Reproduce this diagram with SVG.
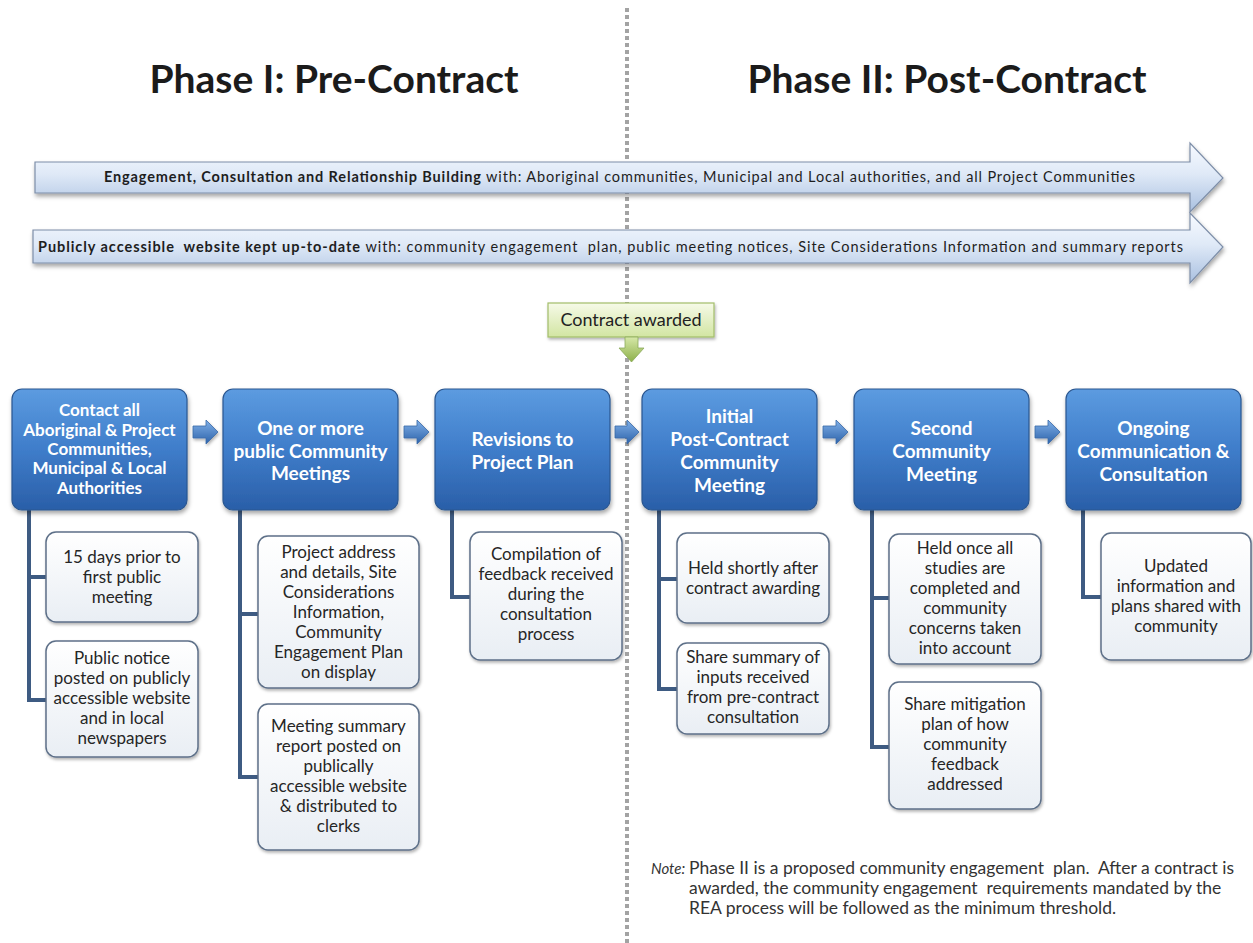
<svg xmlns="http://www.w3.org/2000/svg" width="1253" height="943" viewBox="0 0 1253 943">
<defs>
<linearGradient id="gBlue" x1="0" y1="0" x2="0" y2="1">
<stop offset="0" stop-color="#5c9be0"/><stop offset="0.5" stop-color="#3f7dca"/><stop offset="1" stop-color="#2a5fa8"/>
</linearGradient>
<linearGradient id="gSub" x1="0" y1="0" x2="0" y2="1">
<stop offset="0" stop-color="#ffffff"/><stop offset="1" stop-color="#e9eef4"/>
</linearGradient>
<linearGradient id="gBig" x1="0" y1="0" x2="0" y2="1">
<stop offset="0" stop-color="#f7faff"/><stop offset="0.45" stop-color="#dfe9f7"/><stop offset="1" stop-color="#a9c0e0"/>
</linearGradient>
<linearGradient id="gGreen" x1="0" y1="0" x2="0" y2="1">
<stop offset="0" stop-color="#f6fae8"/><stop offset="1" stop-color="#d2e5a2"/>
</linearGradient>
<linearGradient id="gGreenArrow" x1="0" y1="0" x2="0" y2="1">
<stop offset="0" stop-color="#d6e8a8"/><stop offset="1" stop-color="#8db04a"/>
</linearGradient>
<linearGradient id="gSmall" x1="0" y1="0" x2="0" y2="1">
<stop offset="0" stop-color="#7fb0e8"/><stop offset="1" stop-color="#2d62aa"/>
</linearGradient>
<filter id="sh" x="-10%" y="-10%" width="125%" height="130%">
<feDropShadow dx="1" dy="3" stdDeviation="2" flood-color="#000" flood-opacity="0.35"/>
</filter>
<filter id="shs" x="-10%" y="-10%" width="125%" height="130%">
<feDropShadow dx="1" dy="2" stdDeviation="1.5" flood-color="#000" flood-opacity="0.3"/>
</filter>
</defs>
<style>
.title{font-family:Lato,"Open Sans",sans-serif;font-weight:bold;font-size:39px;fill:#1b1b1b;text-anchor:middle}
.bigt{font-family:Lato,"Open Sans",sans-serif;font-size:14.5px;fill:#1e1e1e;white-space:pre}
.bigt .b{font-weight:bold}
.bx{fill:url(#gBlue);stroke:#2a5690;stroke-width:1.2;filter:url(#sh)}
.bxt{font-family:Lato,"Open Sans",sans-serif;font-weight:bold;font-size:19px;fill:#ffffff;text-anchor:middle}
.bxt.s{font-size:17px}
.sub{fill:url(#gSub);stroke:#5d6f88;stroke-width:1.5;filter:url(#shs)}
.st{font-family:Lato,"Open Sans",sans-serif;font-size:17px;fill:#262626;text-anchor:middle}
.con{fill:none;stroke:#3e5b82;stroke-width:4}
.sa{fill:url(#gSmall);stroke:#3a6aa8;stroke-width:0.8;filter:url(#shs)}
.note{font-family:Lato,"Open Sans",sans-serif;font-size:17.5px;fill:#333333;white-space:pre}
.nl{font-family:Lato,"Open Sans",sans-serif;font-size:15px;font-style:italic;fill:#333333}
</style>

<line x1="627" y1="8" x2="627" y2="943" stroke="#a3a3a3" stroke-width="4" stroke-dasharray="4 3"/>

<text class="title" x="334" y="93">Phase I: Pre-Contract</text>
<text class="title" x="947" y="93">Phase II: Post-Contract</text>

<g id="band1">
<path d="M35,162 H1190 V143 L1223,178 L1190,212 V193 H35 Z" fill="url(#gBig)" stroke="#7d8ea8" stroke-width="1.2" filter="url(#sh)"/>
<text class="bigt" x="104" y="182" textLength="1031" lengthAdjust="spacing"><tspan class="b">Engagement, Consultation and Relationship Building</tspan> with: Aboriginal communities, Municipal and Local authorities, and all Project Communities</text>
</g>
<g id="band2">
<path d="M33,230 H1190 V213 L1223,247 L1190,283 V263 H33 Z" fill="url(#gBig)" stroke="#7d8ea8" stroke-width="1.2" filter="url(#sh)"/>
<text class="bigt" x="38" y="252" textLength="1145" lengthAdjust="spacing"><tspan class="b">Publicly accessible  website kept up-to-date</tspan> with: community engagement  plan, public meeting notices, Site Considerations Information and summary reports</text>
</g>

<g id="contract-awarded">
<rect x="548" y="303" width="166" height="34" fill="url(#gGreen)" stroke="#a2bd6a" stroke-width="1.2" filter="url(#shs)"/>
<text x="631" y="326" font-family="Lato, 'Open Sans', sans-serif" font-size="18px" fill="#222" text-anchor="middle">Contract awarded</text>
<path d="M625,337 H638 V348 H644 L631.5,362 L619,348 H625 Z" fill="url(#gGreenArrow)" stroke="#8aa95a" stroke-width="0.8"/>
</g>

<g id="connectors">
<path class="con" d="M29,508 V700 M27,577 H46 M27,700 H46"/>
<path class="con" d="M240,508 V777 M238,614 H258 M238,777 H258"/>
<path class="con" d="M452,508 V597 M450,597 H470"/>
<path class="con" d="M659,508 V689 M657,579 H677 M657,689 H677"/>
<path class="con" d="M872,508 V747 M870,598 H889 M870,747 H889"/>
<path class="con" d="M1083,508 V597 M1081,597 H1101"/>
<path class="sa" d="M193,426 H206 V420 L218,432 L206,444 V438 H193 Z"/>
<path class="sa" d="M404,426 H417 V420 L429,432 L417,444 V438 H404 Z"/>
<path class="sa" d="M615,426 H627 V420 L639,432 L627,444 V438 H615 Z"/>
<path class="sa" d="M823,426 H836 V420 L848,432 L836,444 V438 H823 Z"/>
<path class="sa" d="M1035,426 H1048 V420 L1060,432 L1048,444 V438 H1035 Z"/>
</g>

<g id="n1">
<rect class="bx" x="12" y="389" width="175" height="121" rx="10"/>
<text class="bxt s"><tspan x="99.5" y="416">Contact all</tspan><tspan x="99.5" y="436">Aboriginal &amp; Project</tspan><tspan x="99.5" y="455">Communities,</tspan><tspan x="99.5" y="474">Municipal &amp; Local</tspan><tspan x="99.5" y="494">Authorities</tspan></text>
</g>
<g id="n2">
<rect class="bx" x="223" y="389" width="175" height="121" rx="10"/>
<text class="bxt"><tspan x="310.5" y="435">One or more</tspan><tspan x="310.5" y="458">public Community</tspan><tspan x="310.5" y="480">Meetings</tspan></text>
</g>
<g id="n3">
<rect class="bx" x="435" y="389" width="175" height="121" rx="10"/>
<text class="bxt"><tspan x="522.5" y="446">Revisions to</tspan><tspan x="522.5" y="469">Project Plan</tspan></text>
</g>
<g id="n4">
<rect class="bx" x="642" y="389" width="175" height="121" rx="10"/>
<text class="bxt"><tspan x="729.5" y="423">Initial</tspan><tspan x="729.5" y="446">Post-Contract</tspan><tspan x="729.5" y="469">Community</tspan><tspan x="729.5" y="492">Meeting</tspan></text>
</g>
<g id="n5">
<rect class="bx" x="854" y="389" width="175" height="121" rx="10"/>
<text class="bxt"><tspan x="941.5" y="435">Second</tspan><tspan x="941.5" y="458">Community</tspan><tspan x="941.5" y="481">Meeting</tspan></text>
</g>
<g id="n6">
<rect class="bx" x="1066" y="389" width="175" height="121" rx="10"/>
<text class="bxt"><tspan x="1153.5" y="435">Ongoing</tspan><tspan x="1153.5" y="458">Communication &amp;</tspan><tspan x="1153.5" y="481">Consultation</tspan></text>
</g>

<g id="n1a">
<rect class="sub" x="46" y="532" width="152" height="90" rx="10"/>
<text class="st"><tspan x="122" y="563">15 days prior to</tspan><tspan x="122" y="583">first public</tspan><tspan x="122" y="603">meeting</tspan></text>
</g>
<g id="n1b">
<rect class="sub" x="46" y="641" width="152" height="116" rx="10"/>
<text class="st"><tspan x="122" y="664">Public notice</tspan><tspan x="122" y="684">posted on publicly</tspan><tspan x="122" y="704">accessible website</tspan><tspan x="122" y="724">and in local</tspan><tspan x="122" y="744">newspapers</tspan></text>
</g>
<g id="n2a">
<rect class="sub" x="258" y="536" width="161" height="152" rx="10"/>
<text class="st"><tspan x="338.5" y="558">Project address</tspan><tspan x="338.5" y="578">and details, Site</tspan><tspan x="338.5" y="598">Considerations</tspan><tspan x="338.5" y="618">Information,</tspan><tspan x="338.5" y="638">Community</tspan><tspan x="338.5" y="658">Engagement Plan</tspan><tspan x="338.5" y="678">on display</tspan></text>
</g>
<g id="n2b">
<rect class="sub" x="258" y="704" width="161" height="146" rx="10"/>
<text class="st"><tspan x="338.5" y="732">Meeting summary</tspan><tspan x="338.5" y="752">report posted on</tspan><tspan x="338.5" y="772">publically</tspan><tspan x="338.5" y="792">accessible website</tspan><tspan x="338.5" y="812">&amp; distributed to</tspan><tspan x="338.5" y="832">clerks</tspan></text>
</g>
<g id="n3a">
<rect class="sub" x="470" y="532" width="152" height="128" rx="10"/>
<text class="st"><tspan x="546" y="560">Compilation of</tspan><tspan x="546" y="580">feedback received</tspan><tspan x="546" y="600">during the</tspan><tspan x="546" y="620">consultation</tspan><tspan x="546" y="640">process</tspan></text>
</g>
<g id="n4a">
<rect class="sub" x="677" y="533" width="152" height="90" rx="10"/>
<text class="st"><tspan x="753" y="574">Held shortly after</tspan><tspan x="753" y="594">contract awarding</tspan></text>
</g>
<g id="n4b">
<rect class="sub" x="677" y="643" width="152" height="91" rx="10"/>
<text class="st"><tspan x="753" y="663">Share summary of</tspan><tspan x="753" y="683">inputs received</tspan><tspan x="753" y="703">from pre-contract</tspan><tspan x="753" y="723">consultation</tspan></text>
</g>
<g id="n5a">
<rect class="sub" x="889" y="534" width="152" height="130" rx="10"/>
<text class="st"><tspan x="965" y="554">Held once all</tspan><tspan x="965" y="574">studies are</tspan><tspan x="965" y="594">completed and</tspan><tspan x="965" y="614">community</tspan><tspan x="965" y="634">concerns taken</tspan><tspan x="965" y="654">into account</tspan></text>
</g>
<g id="n5b">
<rect class="sub" x="889" y="682" width="152" height="127" rx="10"/>
<text class="st"><tspan x="965" y="710">Share mitigation</tspan><tspan x="965" y="730">plan of how</tspan><tspan x="965" y="750">community</tspan><tspan x="965" y="770">feedback</tspan><tspan x="965" y="790">addressed</tspan></text>
</g>
<g id="n6a">
<rect class="sub" x="1101" y="533" width="150" height="127" rx="10"/>
<text class="st"><tspan x="1176" y="572">Updated</tspan><tspan x="1176" y="592">information and</tspan><tspan x="1176" y="612">plans shared with</tspan><tspan x="1176" y="632">community</tspan></text>
</g>

<g id="note">
<text class="nl" x="651" y="874">Note:</text>
<text class="note"><tspan x="689" y="874">Phase II is a proposed community engagement  plan.  After a contract is</tspan><tspan x="689" y="894">awarded, the community engagement  requirements mandated by the</tspan><tspan x="689" y="914">REA process will be followed as the minimum threshold.</tspan></text>
</g>
</svg>
